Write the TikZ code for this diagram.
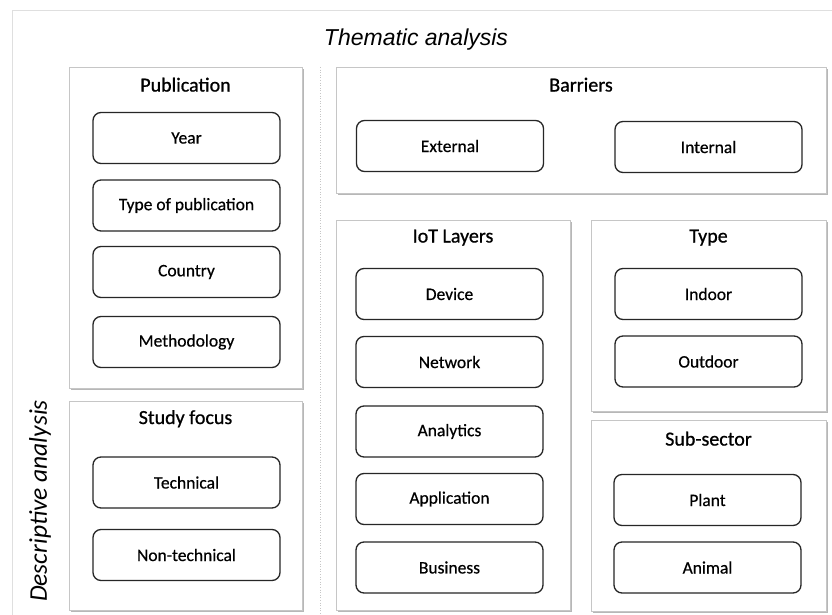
\documentclass[tikz,border=0pt]{standalone}
\usepackage{fontspec}
\setmainfont{Carlito}
\newfontfamily\arialfont{Liberation Sans}
\newfontfamily\heavyfont[FakeBold=0.8]{Carlito}
\newfontfamily\itemfont[FakeBold=0.5]{Carlito}
\usetikzlibrary{shadows}

\tikzset{
	panel/.style={draw=gray!45, fill=white, line width=0.6pt, drop shadow={shadow xshift=1.8pt, shadow yshift=-1.8pt, opacity=0.7, fill=gray!80}},
	item/.style={draw=black!85, rounded corners=8pt, line width=1.3pt, minimum width=187pt, minimum height=51pt, font=\itemfont\fontsize{17.5}{20}\selectfont, text=black},
	ttl/.style={font=\heavyfont\fontsize{20}{23}\selectfont, text=black}
}

\begin{document}
\begin{tikzpicture}[x=1pt, y=-1pt]
		\useasboundingbox[fill=white] (0,0) rectangle (832,615);
		% frame and separator
		\path (12,10) coordinate (TL) (832,10) coordinate (TR) (12,615) coordinate (BL) (320,67) coordinate (S) (320,615) coordinate (S');
		\draw[gray!25, line width=0.8pt] (BL)--(TL)--(TR);
		\draw[gray!45, dotted, line width=0.6pt] (S)--(S');
		\node[font=\arialfont\itshape\fontsize{23}{26}\selectfont] (them) at (416,40) {Thematic analysis};
		\node[font=\itshape\fontsize{25.5}{28}\selectfont, rotate=90] (desc) at (40,501) {Descriptive analysis};
		% panels with titles
		\foreach \n/\x/\y/\w/\h/\d/\t in {pub/185.5/227.5/233/321/18/Publication, focus/185.5/505.5/233/209/18/Study focus, barriers/581/130/490/126/18/Barriers, iot/453/415/234/390/18/IoT Layers, type/708.5/315.5/235/191/18/Type, sub/708.5/515.5/235/191/19/Sub-sector}{
		\node[panel, minimum width=\w, minimum height=\h] (\n) at (\x,\y) {};
		\path (\n.north) ++(0,\d) node[ttl] (\n-t) {\t};
		}
		% items
		\foreach \n/\x/\y/\t in {year/186.5/138/Year, pubtype/186.5/205.5/Type of publication, country/186.5/272/Country, method/186.5/342/Methodology, tech/186.5/482.5/Technical, nontech/186.5/555/Non-technical, ext/450/146/External, int/708.5/147/Internal, device/449.5/294/Device, network/449.5/362/Network, analytics/449.5/431.5/Analytics, application/449.5/499/Application, business/449.5/567.5/Business, indoor/708.5/294/Indoor, outdoor/708.5/361.5/Outdoor, plant/707.5/500/Plant, animal/707.5/567.5/Animal}{
		\node[item] (\n) at (\x,\y) {\t};
		}
	\end{tikzpicture}
\end{document}
